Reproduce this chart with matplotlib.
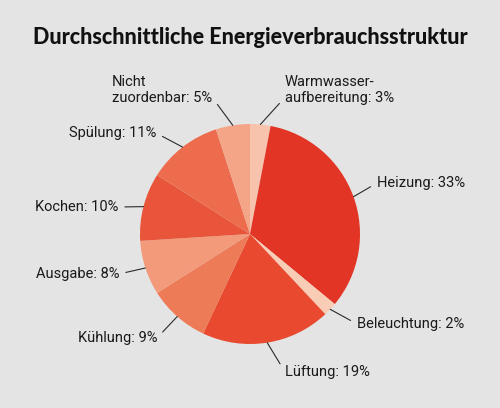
import numpy as np
import matplotlib
matplotlib.use("Agg")
import matplotlib.pyplot as plt

labels = ["Warmwasser-\naufbereitung", "Heizung", "Beleuchtung", "Lüftung", "Kühlung",
          "Ausgabe", "Kochen", "Spülung", "Nicht\nzuordenbar"]
shares = [3, 33, 2, 19, 9, 8, 10, 11, 5]
colors = ["#F8C3AD", "#E33526", "#F9CCB6", "#E8492F", "#ED7B57",
          "#F29A7A", "#E9553A", "#EC6C4D", "#F4A587"]

W, H = 500, 408
bg = "#E3E4E3"

fig = plt.figure(figsize=(W / 100, H / 100), dpi=100, facecolor=bg)
ax = fig.add_axes([0, 0, 1, 1])

cx, cy, r = 250, H - 234, 110
wedges, _ = ax.pie(shares, colors=colors, startangle=90, counterclock=False,
                   center=(cx, cy), radius=r, wedgeprops=dict(linewidth=0),
                   frame=True)
ax.set_xlim(0, W)
ax.set_ylim(0, H)
ax.set_aspect("equal")
ax.axis("off")

# label placement: (x, y from top, ha, relpos)
place = [
    (285, 90, "left", (0.0, 0.25)),
    (377, 183, "left", (0.0, 0.5)),
    (357, 324, "left", (0.0, 0.5)),
    (285, 372, "left", (0.0, 0.5)),
    (157, 338, "right", (1.0, 0.5)),
    (119, 274, "right", (1.0, 0.5)),
    (118, 207, "right", (1.0, 0.5)),
    (156, 133, "right", (1.0, 0.5)),
    (112, 90, "left", (1.0, 0.25)),
]

font = ["Roboto", "DejaVu Sans"]
for w, lab, val, (tx, ty, ha, rp) in zip(wedges, labels, shares, place):
    ang = np.deg2rad((w.theta1 + w.theta2) / 2)
    px, py = cx + r * np.cos(ang), cy + r * np.sin(ang)
    ax.annotate(f"{lab}: {val}%", xy=(px, py), xytext=(tx, H - ty),
                ha=ha, va="center", fontsize=10.5, family=font,
                fontstretch="condensed", color="#1a1a1a", linespacing=1.1,
                arrowprops=dict(arrowstyle="-", color="#2a2a2a", lw=0.8,
                                relpos=rp, shrinkA=3, shrinkB=0))

fig.text(0.5, 1 - 37 / H, "Durchschnittliche Energieverbrauchsstruktur",
         ha="center", va="center", fontsize=15.5, fontweight="black",
         family=["Lato", "DejaVu Sans"], color="#111111")

fig.savefig("out.png", dpi=100, facecolor=bg)
